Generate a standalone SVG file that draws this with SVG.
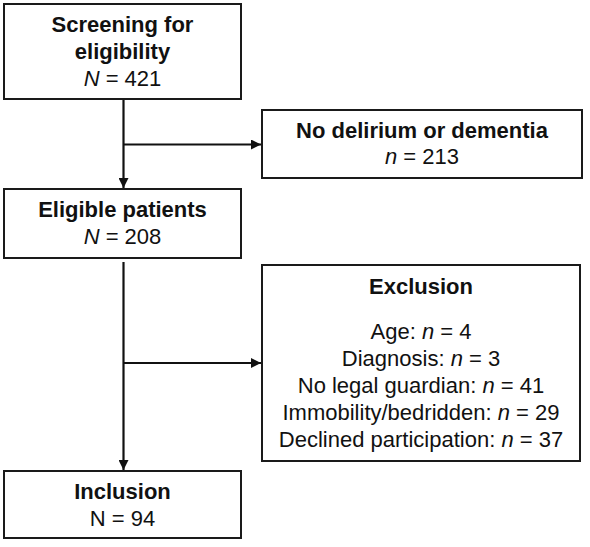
<svg xmlns="http://www.w3.org/2000/svg" width="590" height="547" viewBox="0 0 590 547">
<style>
.box{fill:#fff;stroke:#1a1a1a;stroke-width:2}
text{font-family:"Liberation Sans",Arial,sans-serif;font-size:22px;fill:#111;text-anchor:middle}
.b{font-weight:bold}
.i{font-style:italic}
.ln{stroke:#111;stroke-width:2.2;fill:none}
</style>
<defs>
<marker id="ah" viewBox="0 0 10 10" refX="10" refY="5" markerWidth="10" markerHeight="10" markerUnits="userSpaceOnUse" orient="auto">
<path d="M0,0 L10,5 L0,10 z" fill="#111"/>
</marker>
</defs>
<rect width="590" height="547" fill="#fff"/>
<g id="connectors">
<line class="ln" x1="123.5" y1="99" x2="123.5" y2="188" marker-end="url(#ah)"/>
<line class="ln" x1="123.5" y1="144.5" x2="261" y2="144.5" marker-end="url(#ah)"/>
<line class="ln" x1="123.5" y1="262" x2="123.5" y2="470" marker-end="url(#ah)"/>
<line class="ln" x1="123.5" y1="363" x2="261" y2="363" marker-end="url(#ah)"/>
</g>
<g id="screening">
<rect class="box" x="4" y="4" width="237" height="95"/>
<text class="b" x="122.5" y="32">Screening for</text>
<text class="b" x="122.5" y="59">eligibility</text>
<text x="122.5" y="86"><tspan class="i">N</tspan> = 421</text>
</g>
<g id="no-delirium">
<rect class="box" x="262" y="110" width="320" height="68"/>
<text class="b" x="422" y="138">No delirium or dementia</text>
<text x="422" y="164"><tspan class="i">n</tspan> = 213</text>
</g>
<g id="eligible">
<rect class="box" x="4" y="189" width="237" height="69"/>
<text class="b" x="122.5" y="217">Eligible patients</text>
<text x="122.5" y="244"><tspan class="i">N</tspan> = 208</text>
</g>
<g id="exclusion">
<rect class="box" x="262" y="265" width="318" height="196"/>
<text class="b" x="421" y="294">Exclusion</text>
<text x="421" y="339">Age: <tspan class="i">n</tspan> = 4</text>
<text x="421" y="366">Diagnosis: <tspan class="i">n</tspan> = 3</text>
<text x="421" y="393">No legal guardian: <tspan class="i">n</tspan> = 41</text>
<text x="421" y="420">Immobility/bedridden: <tspan class="i">n</tspan> = 29</text>
<text x="421" y="447">Declined participation: <tspan class="i">n</tspan> = 37</text>
</g>
<g id="inclusion">
<rect class="box" x="4" y="471" width="237" height="67"/>
<text class="b" x="122.5" y="499">Inclusion</text>
<text x="122.5" y="526">N = 94</text>
</g>
</svg>
